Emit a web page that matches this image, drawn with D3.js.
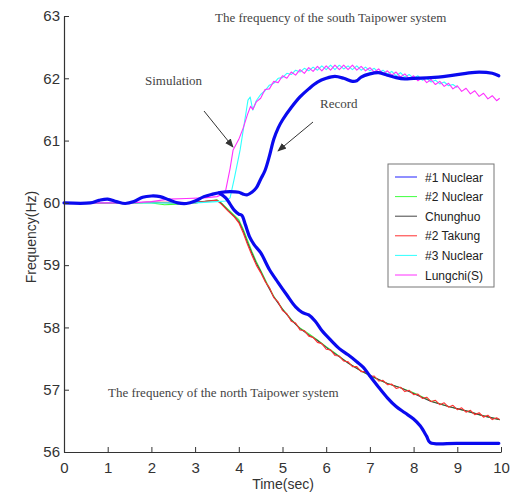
<!DOCTYPE html>
<html>
<head>
<meta charset="utf-8">
<script src="https://cdn.jsdelivr.net/npm/d3@7"></script>
<style>
  html, body { margin: 0; padding: 0; background: #fff; }
  svg { display: block; }
</style>
</head>
<body>
<svg id="chart" width="510" height="495"></svg>
<script>
// ---------- DATA ----------
const xTicks = [0, 1, 2, 3, 4, 5, 6, 7, 8, 9, 10];
const yTicks = [56, 57, 58, 59, 60, 61, 62, 63];
const legendNames = ["#1 Nuclear", "#2 Nuclear", "Chunghuo", "#2 Takung", "#3 Nuclear", "Lungchi(S)"];
const legendColors = ["#2020ff", "#40ff40", "#444444", "#ff3030", "#30ffff", "#ff30ff"];

// Record (measured) - south system
const recSouthT = [0, 0.6, 0.8, 1.0, 1.2, 1.4, 1.6, 1.8, 2.0, 2.2, 2.4, 2.6, 2.8, 3.0, 3.2, 3.4, 3.6, 3.8, 4.0, 4.1, 4.2, 4.3, 4.4, 4.5, 4.6, 4.7, 4.8, 4.9, 5.0, 5.2, 5.4, 5.6, 5.8, 6.0, 6.2, 6.4, 6.6, 6.7, 6.8, 7.0, 7.2, 7.4, 7.6, 7.8, 8.0, 8.4, 8.8, 9.2, 9.5, 9.8, 9.95];
const recSouthF = [60, 60, 60.04, 60.06, 60.02, 59.99, 60.02, 60.09, 60.11, 60.1, 60.05, 60.0, 59.99, 60.03, 60.1, 60.14, 60.17, 60.18, 60.17, 60.14, 60.13, 60.17, 60.24, 60.38, 60.52, 60.75, 61.02, 61.2, 61.33, 61.53, 61.7, 61.83, 61.94, 62.0, 62.03, 62.0, 61.95, 61.96, 62.02, 62.07, 62.09, 62.05, 62.01, 61.99, 62.0, 62.01, 62.04, 62.08, 62.1, 62.08, 62.04];

// Record (measured) - north system (branches off at ~3.55 s)
const recNorthT = [3.55, 3.7, 3.8, 3.9, 4.0, 4.07, 4.15, 4.25, 4.35, 4.5, 4.7, 4.9, 5.1, 5.3, 5.45, 5.6, 5.75, 5.9, 6.1, 6.3, 6.5, 6.7, 6.85, 7.0, 7.2, 7.4, 7.6, 7.8, 8.0, 8.15, 8.3, 8.38, 9.0, 9.95];
const recNorthF = [60.16, 60.08, 59.98, 59.88, 59.82, 59.8, 59.65, 59.45, 59.33, 59.2, 58.93, 58.72, 58.52, 58.33, 58.24, 58.2, 58.1, 57.95, 57.8, 57.66, 57.56, 57.45, 57.36, 57.22, 57.04, 56.87, 56.73, 56.63, 56.53, 56.42, 56.25, 56.15, 56.14, 56.14];

// Simulation - #2 Nuclear (green)
const greenT = [0, 1.5, 2.0, 2.3, 2.6, 3.0, 3.3, 3.5, 3.6, 3.75, 3.9, 4.0, 4.1, 4.2, 4.3, 4.4, 4.5, 4.65, 4.8, 5.0, 5.2, 5.4, 5.6, 5.8, 6.0, 6.2, 6.5, 6.8, 7.07, 7.4, 7.7, 8.0, 8.4, 8.8, 9.2, 9.6, 9.97];
const greenF = [60, 60, 60.0, 59.97, 59.98, 60.0, 60.03, 60.05, 60.0, 59.9, 59.8, 59.73, 59.58, 59.4, 59.22, 59.06, 58.92, 58.7, 58.5, 58.3, 58.13, 57.99, 57.9, 57.8, 57.69, 57.59, 57.43, 57.3, 57.2, 57.1, 57.03, 56.95, 56.82, 56.73, 56.66, 56.58, 56.52];

// Simulation - Chunghuo (black)
const blackT = [0, 1.5, 2.0, 2.5, 3.0, 3.3, 3.5, 3.6, 3.75, 3.9, 4.0, 4.1, 4.2, 4.3, 4.4, 4.5, 4.65, 4.8, 5.0, 5.2, 5.4, 5.6, 5.8, 6.0, 6.2, 6.5, 6.8, 7.07, 7.4, 7.7, 8.0, 8.4, 8.8, 9.2, 9.6, 9.97];
const blackF = [60, 60, 60.01, 60.0, 60.01, 60.03, 60.04, 59.99, 59.88, 59.78, 59.7, 59.55, 59.36, 59.19, 59.03, 58.9, 58.68, 58.49, 58.29, 58.12, 57.98, 57.88, 57.79, 57.68, 57.58, 57.43, 57.3, 57.21, 57.1, 57.03, 56.94, 56.81, 56.73, 56.66, 56.58, 56.52];

// Simulation - #2 Takung (red)
const redT = [0, 1.5, 2.0, 2.5, 3.0, 3.3, 3.5, 3.6, 3.75, 3.9, 4.0, 4.1, 4.2, 4.3, 4.4, 4.5, 4.6, 4.7, 4.8, 4.9, 5.0, 5.1, 5.2, 5.3, 5.4, 5.5, 5.6, 5.7, 5.8, 5.9, 6.0, 6.1, 6.2, 6.3, 6.4, 6.5, 6.6, 6.7, 6.8, 6.9, 7.0, 7.1, 7.2, 7.3, 7.4, 7.5, 7.6, 7.7, 7.8, 7.9, 8.0, 8.1, 8.2, 8.3, 8.4, 8.5, 8.6, 8.7, 8.8, 8.9, 9.0, 9.1, 9.2, 9.3, 9.4, 9.5, 9.6, 9.7, 9.8, 9.9, 9.97];
const redF = [60, 60, 60.01, 60.01, 60.0, 60.03, 60.04, 59.98, 59.87, 59.77, 59.68, 59.52, 59.33, 59.16, 59.0, 58.88, 58.74, 58.64, 58.48, 58.41, 58.27, 58.22, 58.10, 58.07, 57.96, 57.95, 57.86, 57.84, 57.76, 57.74, 57.65, 57.64, 57.55, 57.54, 57.46, 57.45, 57.37, 57.37, 57.29, 57.29, 57.21, 57.22, 57.14, 57.15, 57.08, 57.09, 57.02, 57.04, 56.97, 56.99, 56.92, 56.93, 56.86, 56.88, 56.81, 56.83, 56.76, 56.79, 56.72, 56.75, 56.68, 56.71, 56.64, 56.67, 56.60, 56.63, 56.56, 56.59, 56.52, 56.55, 56.52];

// Simulation - #3 Nuclear (cyan)
const cyanT = [0, 3.0, 3.5, 3.7, 3.8, 3.9, 4.03, 4.12, 4.21, 4.26, 4.32, 4.4, 4.5, 4.6, 4.7, 4.8, 4.9, 5.0, 5.1, 5.2, 5.3, 5.4, 5.5, 5.6, 5.7, 5.8, 5.9, 6.0, 6.1, 6.2, 6.3, 6.4, 6.5, 6.6, 6.7, 6.8, 6.9, 7.0, 7.1, 7.2, 7.3, 7.4, 7.5, 7.6, 7.7, 7.8, 7.9, 8.0, 8.1, 8.2, 8.3, 8.4, 8.5, 8.6, 8.7, 8.8, 8.9, 9.0];
const cyanF = [60, 60.0, 60.02, 60.03, 60.08, 60.4, 60.85, 61.25, 61.65, 61.7, 61.49, 61.64, 61.74, 61.80, 61.89, 61.92, 62.00, 62.01, 62.08, 62.06, 62.13, 62.10, 62.16, 62.12, 62.18, 62.13, 62.20, 62.14, 62.21, 62.14, 62.21, 62.15, 62.20, 62.14, 62.20, 62.13, 62.18, 62.12, 62.16, 62.09, 62.13, 62.07, 62.11, 62.04, 62.09, 62.02, 62.06, 62.00, 62.04, 61.97, 62.00, 61.94, 61.97, 61.91, 61.94, 61.88, 61.90, 61.85];

// Simulation - Lungchi(S) (magenta)
const magT = [0, 1.5, 2.0, 2.4, 2.8, 3.2, 3.5, 3.6, 3.7, 3.8, 3.87, 4.0, 4.1, 4.2, 4.27, 4.32, 4.4, 4.5, 4.6, 4.7, 4.8, 4.9, 5.0, 5.1, 5.2, 5.3, 5.4, 5.5, 5.6, 5.7, 5.8, 5.9, 6.0, 6.1, 6.2, 6.3, 6.4, 6.5, 6.6, 6.7, 6.8, 6.9, 7.0, 7.1, 7.2, 7.3, 7.4, 7.5, 7.6, 7.7, 7.8, 7.9, 8.0, 8.1, 8.2, 8.3, 8.4, 8.5, 8.6, 8.7, 8.8, 8.9, 9.0, 9.1, 9.2, 9.3, 9.4, 9.5, 9.6, 9.7, 9.8, 9.9, 9.97];
const magF = [60, 60.0, 60.02, 60.06, 60.07, 60.08, 60.1, 60.13, 60.2, 60.55, 60.85, 61.02, 61.2, 61.42, 61.55, 61.5, 61.62, 61.68, 61.82, 61.83, 61.95, 61.93, 62.04, 62.00, 62.10, 62.05, 62.14, 62.08, 62.17, 62.11, 62.19, 62.12, 62.20, 62.13, 62.21, 62.14, 62.21, 62.14, 62.21, 62.13, 62.19, 62.12, 62.17, 62.10, 62.15, 62.07, 62.12, 62.05, 62.10, 62.02, 62.07, 61.99, 62.04, 61.96, 62.01, 61.93, 61.98, 61.90, 61.95, 61.87, 61.92, 61.83, 61.88, 61.79, 61.84, 61.75, 61.80, 61.71, 61.76, 61.67, 61.72, 61.64, 61.68];

// ---------- CHART ----------
const svg = d3.select("#chart");
const x = d3.scaleLinear().domain([0, 10]).range([64, 501]);
const y = d3.scaleLinear().domain([56, 63]).range([452, 16]);
const zip = (ts, fs) => ts.map((t, i) => [t, fs[i]]);
const line = d3.line().x(d => x(d[0])).y(d => y(d[1]));
const smooth = d3.line().x(d => x(d[0])).y(d => y(d[1])).curve(d3.curveCatmullRom.alpha(0.5));

const plot = svg.append("g");
const sims = [
  {d: zip(greenT, greenF), c: legendColors[1]},
  {d: zip(blackT, blackF), c: legendColors[2]},
  {d: zip(redT, redF), c: legendColors[3]},
  {d: zip(cyanT, cyanF), c: legendColors[4]},
  {d: zip(magT, magF), c: legendColors[5]}
];
sims.forEach(s => {
  plot.append("path").attr("d", line(s.d)).attr("fill", "none")
    .attr("stroke", s.c).attr("stroke-width", 1.1).attr("stroke-linejoin", "round");
});
[zip(recSouthT, recSouthF), zip(recNorthT, recNorthF)].forEach(d => {
  plot.append("path").attr("d", smooth(d)).attr("fill", "none")
    .attr("stroke", "#0a0aef").attr("stroke-width", 3.2).attr("stroke-linejoin", "round").attr("stroke-linecap", "round");
});

// axes
const axisColor = "#333";
const xAxis = d3.axisBottom(x).tickValues(xTicks).tickFormat(d3.format("d")).tickSizeInner(-5).tickSizeOuter(0).tickPadding(10);
const yAxis = d3.axisLeft(y).tickValues(yTicks).tickFormat(d3.format("d")).tickSizeInner(-5).tickSizeOuter(0).tickPadding(8);
const gx = svg.append("g").attr("transform", "translate(0,452)").call(xAxis);
const gy = svg.append("g").attr("transform", "translate(64,0)").call(yAxis);
[gx, gy].forEach(g => {
  g.select(".domain").attr("stroke", axisColor).attr("stroke-width", 1.2);
  g.selectAll(".tick line").attr("stroke", axisColor);
  g.selectAll(".tick text").attr("fill", "#333").attr("font-family", "Liberation Sans, Arial, sans-serif").attr("font-size", 15);
});
gy.selectAll(".tick text").attr("dx", 4);

svg.append("text").attr("x", 283).attr("y", 489).attr("text-anchor", "middle")
  .attr("font-family", "Liberation Sans, Arial, sans-serif").attr("font-size", 14).attr("fill", "#333")
  .text("Time(sec)");
svg.append("text").attr("transform", "translate(36,237) rotate(-90)").attr("text-anchor", "middle")
  .attr("font-family", "Liberation Sans, Arial, sans-serif").attr("font-size", 14).attr("fill", "#333")
  .text("Frequency(Hz)");

// annotations
const serif = "Liberation Serif, Times New Roman, serif";
svg.append("text").attr("x", 215).attr("y", 22).attr("font-family", serif).attr("font-size", 13).attr("fill", "#444")
  .text("The frequency of the south Taipower system");
svg.append("text").attr("x", 108).attr("y", 397).attr("font-family", serif).attr("font-size", 13).attr("fill", "#444")
  .text("The frequency of the north Taipower system");
svg.append("text").attr("x", 145).attr("y", 85).attr("font-family", serif).attr("font-size", 13).attr("fill", "#444")
  .text("Simulation");
svg.append("text").attr("x", 320).attr("y", 108).attr("font-family", serif).attr("font-size", 13).attr("fill", "#444")
  .text("Record");

const defs = svg.append("defs");
defs.append("marker").attr("id", "ah").attr("viewBox", "0 0 10 10").attr("refX", 9).attr("refY", 5)
  .attr("markerWidth", 9).attr("markerHeight", 9).attr("markerUnits", "userSpaceOnUse").attr("orient", "auto")
  .append("path").attr("d", "M0,1 L10,5 L0,9 Z").attr("fill", "#333");
[[204, 111, 233, 147], [313, 122, 278, 151]].forEach(a => {
  svg.append("line").attr("x1", a[0]).attr("y1", a[1]).attr("x2", a[2]).attr("y2", a[3])
    .attr("stroke", "#333").attr("stroke-width", 1).attr("marker-end", "url(#ah)");
});

// legend
const lg = svg.append("g");
lg.append("rect").attr("x", 388).attr("y", 164).attr("width", 106).attr("height", 123)
  .attr("fill", "#fff").attr("stroke", "#777").attr("stroke-width", 1);
legendNames.forEach((n, i) => {
  const yy = 177 + i * 19.6;
  lg.append("line").attr("x1", 395).attr("x2", 417).attr("y1", yy).attr("y2", yy)
    .attr("stroke", legendColors[i]).attr("stroke-width", 1);
  lg.append("text").attr("x", 425).attr("y", yy + 4.5).attr("font-family", "Liberation Sans, Arial, sans-serif")
    .attr("font-size", 12).attr("fill", "#222").text(n);
});
</script>
</body>
</html>
